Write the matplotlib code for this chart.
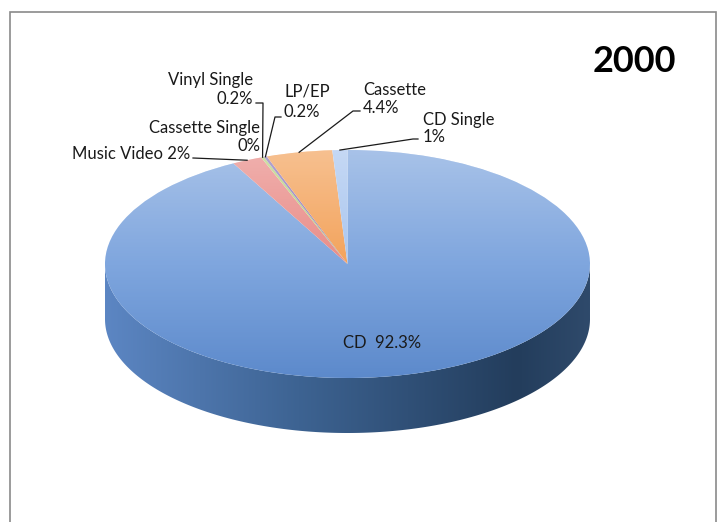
"""
Music format shares in 2000, drawn as an Excel-style 3D pie.
"""

import numpy as np
import matplotlib.pyplot as plt
from matplotlib.patches import Circle, Polygon, Rectangle
from matplotlib.colors import LinearSegmentedColormap

# data, clockwise from 12 o'clock
formats = ["CD", "Music Video", "Cassette Single", "Vinyl Single",
           "LP/EP", "Cassette", "CD Single"]
shares = [92.3, 2, 0, 0.2, 0.2, 4.4, 1]
share_text = ["92.3%", "2%", "0%", "0.2%", "0.2%", "4.4%", "1%"]
year = "2000"

colors = ["#7fa6de", "#e98c88", "#9bbb59", "#b9d27f",
          "#8f7bbd", "#f3a35c", "#aac6ef"]

# layout (pixels from the top-left of the 720x522 picture)
W, H = 720, 522
pie_x, pie_y, rad, depth_px = 347.5, 264, 242.5, 55
squash = 114 / 242.5

# where the format name goes, and the share (None = same line as name)
name_pos = [(382, 343), (190, 154), (260, 128), (253, 80),
            (284, 92), (363, 90), (423, 120)]
value_pos = [None, None, (260, 146), (253, 99),
             (284, 112), (363, 108), (423, 137)]
label_ha = ["center", "right", "right", "right", "left", "left", "left"]
# leader lines: start next to the label, optional elbow, then to the slice
leader_start = [None, (193, 158), None, (256, 103), (281, 117),
                (360, 111), (418, 139)]
leader_elbow = [None, None, None, (263, 103), (275, 117),
                (353, 111), (413, 139)]


def px(x, y):
    """pixel position -> data coords of the squashed axes"""
    return x, (H - y) / squash


plt.rcParams['font.family'] = ['Lato', 'DejaVu Sans']

fig = plt.figure(figsize=(W / 100, H / 100), dpi=100)
ax = fig.add_axes([0, 0, 1, 1])
cx, cy = px(pie_x, pie_y)
depth = depth_px / squash

# side wall of the pie (front half only is visible)
t = np.linspace(np.pi, 2 * np.pi, 400)
top_arc = np.column_stack([cx + rad * np.cos(t), cy + rad * np.sin(t)])
bot_arc = top_arc[::-1] - [0, depth]
side = Polygon(np.vstack([top_arc, bot_arc]), closed=True,
               facecolor="none", edgecolor="none")
ax.add_patch(side)
side_cmap = LinearSegmentedColormap.from_list(
    "side", [(0, "#5c86c3"), (0.4, "#3d6392"), (0.85, "#233d5c"),
             (1, "#2f4a6b")])
grad = np.linspace(0, 1, 256).reshape(1, -1)
im = ax.imshow(grad, cmap=side_cmap, aspect="auto", origin="lower",
               extent=[cx - rad, cx + rad, cy - rad - depth, cy], zorder=1)
im.set_clip_path(side)

# top face
wedges, _ = ax.pie(shares, colors=colors, startangle=90, counterclock=False,
                   radius=rad, center=(cx, cy), frame=True,
                   wedgeprops=dict(linewidth=0, zorder=2))

# light from the top, darker towards the front
v = np.linspace(0, 1, 256)
shade = np.zeros((256, 1, 4))
hi = v > 0.5
shade[hi, 0, :3] = 1.0
shade[hi, 0, 3] = (v[hi] - 0.5) / 0.5 * 0.32
shade[~hi, 0, :3] = [0.14, 0.36, 0.68]
shade[~hi, 0, 3] = (0.5 - v[~hi]) / 0.5 * 0.38
top = ax.imshow(shade, aspect="auto", origin="lower",
                extent=[cx - rad, cx + rad, cy - rad, cy + rad], zorder=3)
top.set_clip_path(Circle((cx, cy), rad, transform=ax.transData))

# labels and leader lines
for i, w in enumerate(wedges):
    if value_pos[i] is None:
        sep = "  " if i == 0 else " "
        ax.text(*px(*name_pos[i]), formats[i] + sep + share_text[i],
                ha=label_ha[i], va="center", fontsize=12, color="#1a1a1a",
                zorder=5)
    else:
        ax.text(*px(*name_pos[i]), formats[i], ha=label_ha[i], va="center",
                fontsize=12, color="#1a1a1a", zorder=5)
        ax.text(*px(*value_pos[i]), share_text[i], ha=label_ha[i],
                va="center", fontsize=12, color="#1a1a1a", zorder=5)
    if leader_start[i] is None:
        continue
    ang = np.deg2rad((w.theta1 + w.theta2) / 2)
    edge = (cx + rad * np.cos(ang), cy + rad * np.sin(ang))
    pts = [px(*leader_start[i])]
    if leader_elbow[i] is not None:
        pts.append(px(*leader_elbow[i]))
    pts.append(edge)
    pts = np.array(pts)
    ax.plot(pts[:, 0], pts[:, 1], color="#1a1a1a", lw=0.9, zorder=4)

ax.text(*px(634, 62), year, ha="center", va="center", fontsize=26,
        fontweight="bold", color="black")

ax.set_xlim(0, W)
ax.set_ylim(0, H / squash)
ax.set_aspect("auto")
ax.axis("off")

# chart frame
fig.add_artist(Rectangle((10 / W, -0.1), 706 / W, 1.1 - 12 / H,
                         transform=fig.transFigure, fill=False,
                         edgecolor="#8a8a8a", lw=1.2))

fig.savefig("out.png", dpi=100)
